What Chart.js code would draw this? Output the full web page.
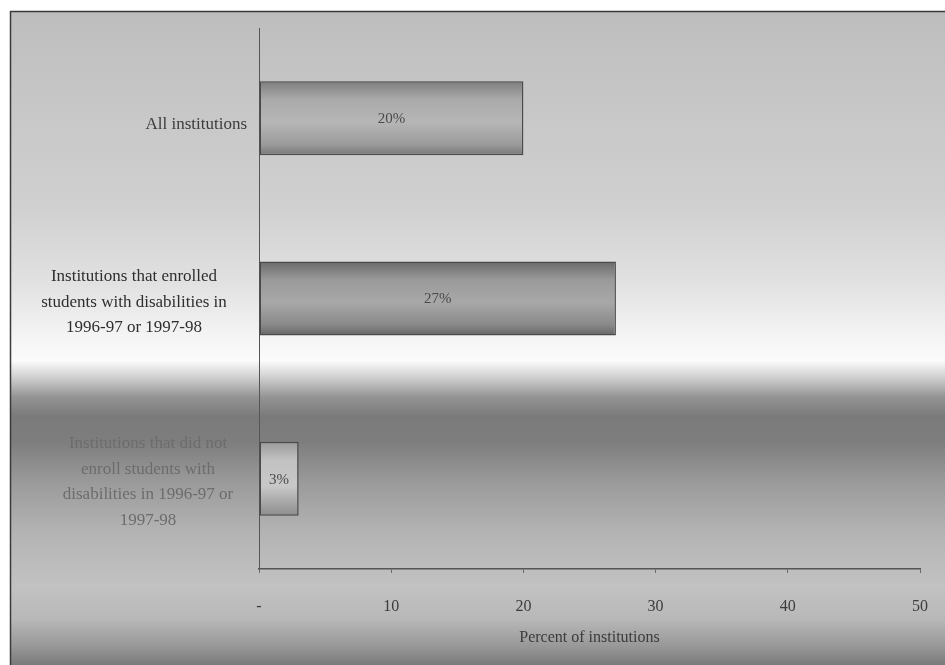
<!DOCTYPE html>
<html>
<head>
<meta charset="utf-8">
<script src="https://cdn.jsdelivr.net/npm/chart.js@4/dist/chart.umd.min.js"></script>
<style>
  html, body { margin: 0; padding: 0; background: #ffffff; }
  #wrap { width: 945px; height: 665px; }
</style>
</head>
<body>
<div id="wrap"><canvas id="c" width="945" height="665"></canvas></div>
<script>
// Share of institutions, by enrollment of students with disabilities
const categories = [
  ['All institutions'],
  ['Institutions that enrolled', 'students with disabilities in', '1996-97 or 1997-98'],
  ['Institutions that did not', 'enroll students with', 'disabilities in 1996-97 or', '1997-98']
];
const percentValues = [20, 27, 3];
const tickLabels = ['-', '10', '20', '30', '40', '50'];
const axisTitle = 'Percent of institutions';

const serif = '"Liberation Serif", "DejaVu Serif", serif';

// Page backdrop: framed panel with vertical grey shading
const backdrop = {
  id: 'backdrop',
  beforeDraw(chart) {
    const { ctx, width, height } = chart;
    ctx.save();
    ctx.fillStyle = '#ffffff';
    ctx.fillRect(0, 0, width, height);
    const g = ctx.createLinearGradient(0, 11, 0, height);
    const stops = [
      [0.00, '#bdbdbd'], [0.10, '#c4c4c4'], [0.30, '#d0d0d0'], [0.42, '#e2e2e2'],
      [0.50, '#f5f5f5'], [0.535, '#fbfbfb'], [0.56, '#d0d0d0'], [0.59, '#949494'],
      [0.62, '#7a7a7a'], [0.66, '#7e7e7e'], [0.72, '#9a9a9a'], [0.80, '#b4b4b4'],
      [0.88, '#c2c2c2'], [0.93, '#b8b8b8'], [0.97, '#999999'], [1.00, '#7a7a7a']
    ];
    stops.forEach(([o, c]) => g.addColorStop(o, c));
    ctx.fillStyle = g;
    ctx.fillRect(10, 11, width - 10, height - 11);
    ctx.strokeStyle = '#3a3a3a';
    ctx.lineWidth = 1.5;
    ctx.beginPath();
    ctx.moveTo(10.5, height);
    ctx.lineTo(10.5, 11.5);
    ctx.lineTo(width, 11.5);
    ctx.stroke();
    ctx.restore();
  }
};

// Category labels beside the bars, each line centred on its own anchor
const categoryLabels = {
  id: 'categoryLabels',
  afterDraw(chart, args, opts) {
    const { ctx } = chart;
    const y = chart.scales.y;
    ctx.save();
    ctx.font = '17px ' + serif;
    ctx.textBaseline = 'middle';
    const lh = 25.5;
    categories.forEach((lines, i) => {
      const cy = y.getPixelForValue(i) + opts.shift[i];
      ctx.fillStyle = opts.colors[i];
      ctx.textAlign = opts.align[i];
      lines.forEach((t, k) => {
        const ly = cy + (k - (lines.length - 1) / 2) * lh;
        ctx.fillText(t, opts.anchors[i], ly);
      });
    });
    ctx.restore();
  }
};

// Value labels inside each bar
const valueLabels = {
  id: 'valueLabels',
  afterDatasetsDraw(chart) {
    const { ctx } = chart;
    const meta = chart.getDatasetMeta(0);
    ctx.save();
    ctx.font = '15px ' + serif;
    ctx.fillStyle = '#4a4a4a';
    ctx.textAlign = 'center';
    ctx.textBaseline = 'middle';
    meta.data.forEach((bar, i) => {
      const cx = (bar.base + bar.x) / 2;
      ctx.fillText(percentValues[i] + '%', cx, bar.y + 1);
    });
    ctx.restore();
  }
};

// Rounded, tube-like shading for each bar
function barFill(context) {
  const chart = context.chart;
  const i = context.dataIndex;
  const light = i === 2;
  if (!chart.chartArea || !chart.scales.y) return light ? '#bdbdbd' : '#a4a4a4';
  const cy = chart.scales.y.getPixelForValue(i);
  const half = 37;
  const g = chart.ctx.createLinearGradient(0, cy - half, 0, cy + half);
  if (light) {
    g.addColorStop(0, '#9a9a9a');
    g.addColorStop(0.25, '#c2c2c2');
    g.addColorStop(0.6, '#c8c8c8');
    g.addColorStop(1, '#8c8c8c');
  } else if (i === 0) {
    g.addColorStop(0, '#7e7e7e');
    g.addColorStop(0.25, '#aaaaaa');
    g.addColorStop(0.55, '#b6b6b6');
    g.addColorStop(0.85, '#9c9c9c');
    g.addColorStop(1, '#777777');
  } else {
    g.addColorStop(0, '#6a6a6a');
    g.addColorStop(0.25, '#9a9a9a');
    g.addColorStop(0.55, '#a8a8a8');
    g.addColorStop(0.85, '#8a8a8a');
    g.addColorStop(1, '#666666');
  }
  return g;
}

new Chart(document.getElementById('c'), {
  type: 'bar',
  data: {
    labels: categories.map(l => l.join(' ')),
    datasets: [{
      data: percentValues,
      backgroundColor: barFill,
      borderColor: '#4a4a4a',
      borderWidth: 1.5,
      borderSkipped: false,
      barPercentage: 0.82,
      categoryPercentage: 0.5
    }]
  },
  options: {
    indexAxis: 'y',
    responsive: false,
    animation: false,
    events: [],
    layout: { padding: { top: 28, right: 25, bottom: 18, left: 0 } },
    plugins: {
      legend: { display: false },
      tooltip: { enabled: false },
      categoryLabels: {
        anchors: [247, 134, 148],
        align: ['right', 'center', 'center'],
        shift: [6, 4, 3],
        colors: ['#3c3c3c', '#2e2e2e', '#6c6c6c']
      }
    },
    scales: {
      x: {
        type: 'linear',
        min: 0,
        max: 50,
        afterFit(scale) {
          scale.height = 78;
          scale.paddingLeft = 0;
          scale.paddingRight = 0;
        },
        afterBuildTicks(scale) {
          scale.ticks = tickLabels.map((_, k) => ({ value: k * 10 }));
        },
        ticks: {
          callback: (v, k) => tickLabels[k],
          font: { family: serif, size: 16 },
          color: '#3c3c3c',
          padding: 24,
          maxRotation: 0
        },
        grid: { drawOnChartArea: false, drawTicks: true, tickLength: 4, color: '#6a6a6a' },
        border: { display: true, color: '#555555', width: 1.5 },
        title: {
          display: true,
          text: axisTitle,
          font: { family: serif, size: 16 },
          color: '#3c3c3c',
          padding: { top: 0, bottom: 0 }
        }
      },
      y: {
        type: 'category',
        afterFit(scale) { scale.width = 259; },
        ticks: { display: false },
        grid: { display: false },
        border: { display: true, color: '#555555', width: 1 }
      }
    }
  },
  plugins: [backdrop, categoryLabels, valueLabels]
});
</script>
</body>
</html>
